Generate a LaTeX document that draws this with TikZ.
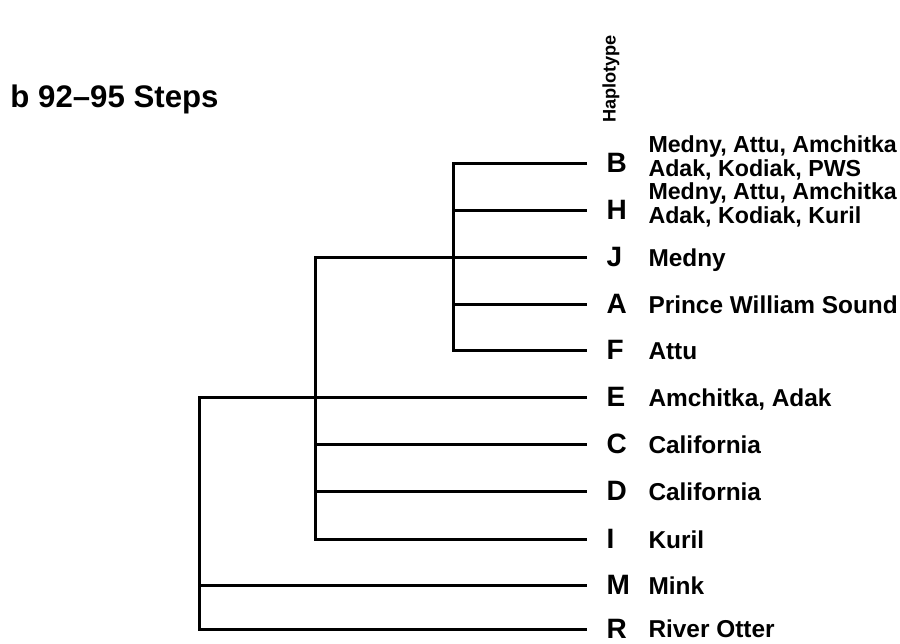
\documentclass[tikz,border=0pt]{standalone}
\usepackage{fontspec}
\setmainfont{Liberation Sans}
\usepackage{tikz}

\begin{document}
\begin{tikzpicture}[x=0.5pt,y=-0.5pt,line width=1.5pt,
 every node/.style={inner sep=0pt,font=\bfseries},
 hap/.style={anchor=west,inner xsep=9pt,font=\fontsize{14}{14}\selectfont\bfseries},
 loc/.style={anchor=base west,align=left,font=\fontsize{12.2}{11}\selectfont\bfseries},
 loctwo/.style={anchor=west,align=left,font=\fontsize{11.6}{10.4}\selectfont\bfseries}]
\useasboundingbox (0,0) rectangle (900,643);
\node[anchor=base west,font=\fontsize{15.6}{16}\selectfont\bfseries] (title) at (9,107) {b 92--95 Steps};
\node[rotate=90,font=\fontsize{9.1}{9}\selectfont\bfseries] (haplo) at (611,79) {Haplotype};
\node[hap] (B) at (587,163) {B};
\node[hap] (H) at (587,210) {H};
\node[hap] (J) at (587,257) {J};
\node[hap] (A) at (587,304) {A};
\node[hap] (F) at (587,350) {F};
\node[hap] (E) at (587,397) {E};
\node[hap] (C) at (587,444) {C};
\node[hap] (D) at (587,491) {D};
\node[hap] (I) at (587,539) {I};
\node[hap] (M) at (587,585) {M};
\node[hap] (R) at (587,629) {R};
\node[loctwo] (locB) at (647,158) {Medny, Attu, Amchitka\\Adak, Kodiak, PWS};
\node[loctwo] (locH) at (647,205) {Medny, Attu, Amchitka\\Adak, Kodiak, Kuril};
\node[loc] (locJ) at (647,266) {Medny};
\node[loc] (locA) at (647,313) {Prince William Sound};
\node[loc] (locF) at (647,359) {Attu};
\node[loc] (locE) at (647,406) {Amchitka, Adak};
\node[loc] (locC) at (647,453) {California};
\node[loc] (locD) at (647,500) {California};
\node[loc] (locI) at (647,548) {Kuril};
\node[loc] (locM) at (647,594) {Mink};
\node[loc] (locR) at (647,637) {River Otter};
\coordinate (inner) at (453,0);
\coordinate (mid) at (315,0);
\coordinate (outer) at (199,0);
\draw (B) -| (inner |- F) -- (F);
\draw (inner |- H) -- (H);
\draw (inner |- A) -- (A);
\draw (J) -| (mid |- I) -- (I);
\draw (mid |- C) -- (C);
\draw (mid |- D) -- (D);
\draw (E) -| (outer |- R) -- (R);
\draw (outer |- M) -- (M);
\end{tikzpicture}
\end{document}
